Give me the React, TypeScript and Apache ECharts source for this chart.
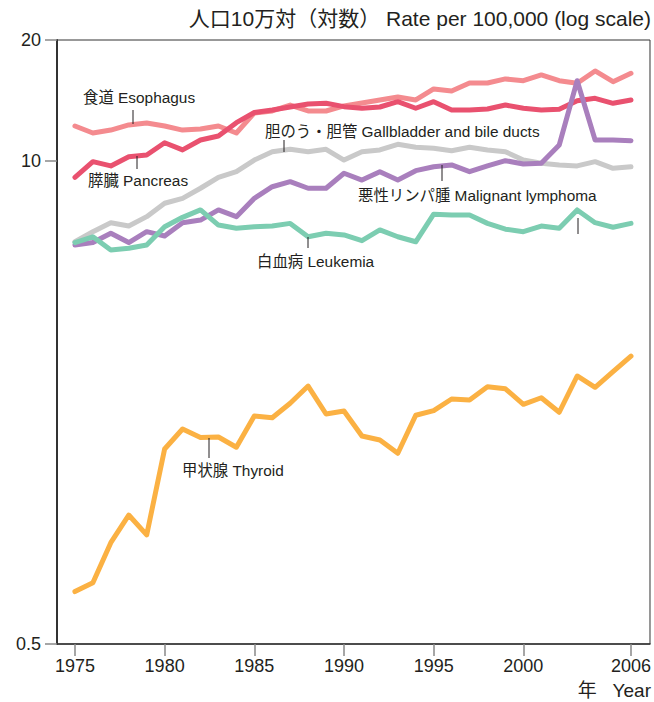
import React, { useEffect, useRef } from "react";
import * as echarts from "echarts";

const years = [1975, 1976, 1977, 1978, 1979, 1980, 1981, 1982, 1983, 1984, 1985, 1986, 1987, 1988, 1989, 1990, 1991, 1992, 1993, 1994, 1995, 1996, 1997, 1998, 1999, 2000, 2001, 2002, 2003, 2004, 2005, 2006];

const esophagus = [12.4, 11.87, 12.09, 12.48, 12.63, 12.4, 12.09, 12.17, 12.4, 11.87, 13.44, 13.61, 14.12, 13.61, 13.61, 14.04, 14.3, 14.57, 14.84, 14.57, 15.6, 15.4, 16.19, 16.19, 16.6, 16.42, 17.01, 16.42, 16.16, 17.44, 16.32, 17.19];
const pancreas = [9.02, 9.94, 9.68, 10.25, 10.36, 11.18, 10.69, 11.37, 11.65, 12.66, 13.48, 13.69, 13.95, 14.21, 14.27, 13.98, 13.84, 13.95, 14.42, 13.84, 14.42, 13.69, 13.69, 13.78, 14.12, 13.84, 13.69, 13.75, 14.5, 14.72, 14.27, 14.57];
const gallbladder = [6.05, 6.44, 6.81, 6.67, 7.07, 7.68, 7.92, 8.43, 9.02, 9.34, 10.04, 10.57, 10.73, 10.57, 10.73, 10.04, 10.57, 10.69, 11.07, 10.87, 10.8, 10.64, 10.87, 10.69, 10.57, 10.04, 9.84, 9.74, 9.68, 9.94, 9.54, 9.63];
const lymphoma = [5.93, 6.02, 6.38, 6.02, 6.44, 6.27, 6.81, 6.92, 7.37, 7.07, 7.92, 8.51, 8.78, 8.43, 8.43, 9.25, 8.87, 9.34, 8.87, 9.4, 9.63, 9.74, 9.34, 9.68, 10.0, 9.8, 9.84, 11.02, 16.42, 11.37, 11.37, 11.32];
const leukemia = [6.02, 6.24, 5.75, 5.81, 5.93, 6.64, 7.04, 7.37, 6.71, 6.58, 6.64, 6.67, 6.78, 6.24, 6.38, 6.31, 6.09, 6.51, 6.24, 6.05, 7.18, 7.14, 7.14, 6.78, 6.54, 6.44, 6.67, 6.58, 7.37, 6.81, 6.62, 6.78];
const thyroid = [0.692, 0.731, 0.937, 1.112, 0.983, 1.675, 1.896, 1.797, 1.804, 1.693, 2.055, 2.033, 2.223, 2.474, 2.08, 2.12, 1.815, 1.771, 1.631, 2.064, 2.124, 2.283, 2.27, 2.464, 2.432, 2.209, 2.301, 2.103, 2.633, 2.455, 2.704, 2.979];

const xTickValues = [1975, 1980, 1985, 1990, 1995, 2000, 2006];
const yTickValues = [0.5, 10, 21.13];
const yTickLabels = ["0.5", "10", "20"];

const titleText = "人口10万対（対数） Rate per 100,000 (log scale)";
const xNameText = "年   Year";

const FONT = "'Liberation Sans', 'Noto Sans CJK JP', sans-serif";
const TEXT_COLOR = "#231f20";

const seriesDefs = [
  { name: "胆のう・胆管 Gallbladder and bile ducts", data: gallbladder, color: "#c9c9c9" },
  { name: "食道 Esophagus", data: esophagus, color: "#f48b8f" },
  { name: "膵臓 Pancreas", data: pancreas, color: "#e9516f" },
  { name: "悪性リンパ腫 Malignant lymphoma", data: lymphoma, color: "#a97fbd" },
  { name: "白血病 Leukemia", data: leukemia, color: "#7ccdb1" },
  { name: "甲状腺 Thyroid", data: thyroid, color: "#fbb143" },
];

// annotation label placement (pixels) with leader line
const annotations = [
  { text: "食道 Esophagus", x: 83, y: 97, lx: 133, ly1: 110, ly2: 124 },
  { text: "膵臓 Pancreas", x: 88, y: 180, lx: 137, ly1: 156, ly2: 169 },
  { text: "胆のう・胆管 Gallbladder and bile ducts", x: 265, y: 131, lx: 284, ly1: 140, ly2: 152 },
  { text: "悪性リンパ腫 Malignant lymphoma", x: 358, y: 195, lx: 442, ly1: 165, ly2: 181 },
  { text: "白血病 Leukemia", x: 257, y: 261, lx: 308, ly1: 237, ly2: 248 },
  { text: "", x: 0, y: 0, lx: 578, ly1: 218, ly2: 234 },
  { text: "甲状腺 Thyroid", x: 182, y: 470, lx: 209, ly1: 438, ly2: 458 },
];

export default function App() {
  const ref = useRef<HTMLDivElement>(null);
  useEffect(() => {
    if (!ref.current) return;
    const chart = echarts.init(ref.current, null, { renderer: "svg" });
    const graphics: any[] = [
      {
        type: "text",
        right: 3,
        top: 8,
        style: { text: titleText, fontSize: 21, fontFamily: FONT, fill: TEXT_COLOR },
      },
      {
        type: "text",
        right: 3,
        top: 681,
        style: { text: xNameText, fontSize: 19, fontFamily: FONT, fill: TEXT_COLOR },
      },
    ];
    annotations.forEach((a) => {
      if (a.text) {
        graphics.push({
          type: "text",
          x: a.x,
          y: a.y,
          z: 100,
          style: {
            text: a.text,
            fontSize: 15.4,
            fontFamily: FONT,
            fill: TEXT_COLOR,
            verticalAlign: "middle",
          },
        });
      }
      graphics.push({
        type: "line",
        z: 100,
        shape: { x1: a.lx, y1: a.ly1, x2: a.lx, y2: a.ly2 },
        style: { stroke: "#231f20", lineWidth: 1 },
      });
    });

    chart.setOption({
      animation: false,
      backgroundColor: "#ffffff",
      grid: {
        left: 57,
        right: 3,
        top: 40,
        bottom: 58,
        show: true,
        borderColor: "#333",
        borderWidth: 1,
      },
      xAxis: {
        type: "value",
        min: 1974,
        max: 2007.06,
        axisLine: { show: true, lineStyle: { color: "#333", width: 1.5 } },
        axisTick: {
          show: true,
          length: 12,
          customValues: xTickValues,
          lineStyle: { color: "#888", width: 1.5 },
        },
        axisLabel: {
          customValues: xTickValues,
          formatter: (v: number) => String(v),
          margin: 13,
          fontSize: 18,
          fontFamily: FONT,
          color: TEXT_COLOR,
        },
        splitLine: { show: false },
      },
      yAxis: {
        type: "log",
        logBase: 10,
        min: 0.5,
        max: 21.13,
        axisLine: { show: true, lineStyle: { color: "#333", width: 2 } },
        axisTick: {
          show: true,
          length: 12,
          customValues: yTickValues,
          lineStyle: { color: "#888", width: 1.5 },
        },
        axisLabel: {
          customValues: yTickValues,
          formatter: (v: number) => {
            const i = yTickValues.findIndex((t) => Math.abs(t - v) < 1e-6);
            return i >= 0 ? yTickLabels[i] : "";
          },
          margin: 16,
          fontSize: 18,
          fontFamily: FONT,
          color: TEXT_COLOR,
        },
        splitLine: { show: false },
      },
      series: seriesDefs.map((s, i) => ({
        type: "line",
        name: s.name,
        data: years.map((y, j) => [y, s.data[j]]),
        showSymbol: false,
        symbol: "none",
        z: 2 + i,
        lineStyle: { color: s.color, width: 5, join: "round", cap: "round" },
        itemStyle: { color: s.color },
      })),
      graphic: graphics,
    });
    return () => chart.dispose();
  }, []);
  return (
    <div
      ref={ref}
      style={{ position: "fixed", left: 0, top: 0, width: 654, height: 702, background: "#fff" }}
    />
  );
}
